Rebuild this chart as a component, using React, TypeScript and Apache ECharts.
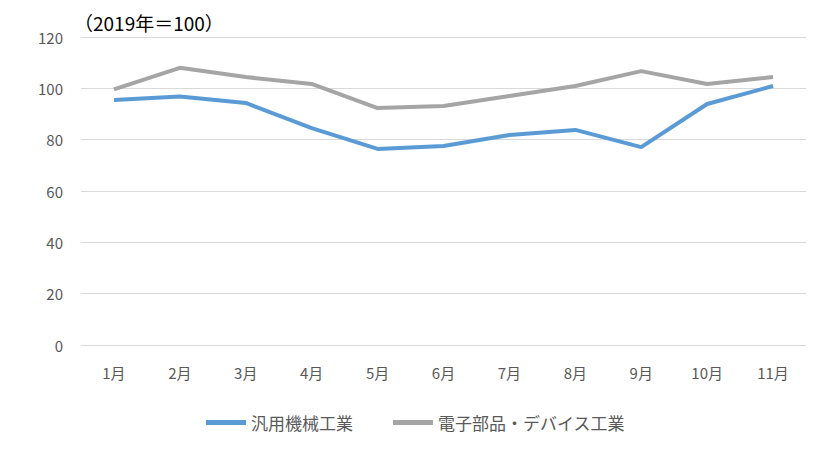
import React, { useEffect, useRef } from 'react';
import * as echarts from 'echarts';

const months = ['1月', '2月', '3月', '4月', '5月', '6月', '7月', '8月', '9月', '10月', '11月'];
const generalMachinery = [95.5, 96.8, 94.3, 84.5, 76.4, 77.5, 81.8, 83.8, 77.1, 93.9, 100.9];
const electronicParts = [99.6, 108, 104.4, 101.7, 92.3, 93.1, 97, 100.9, 106.7, 101.7, 104.4];
const unitLabel = '（2019年＝100）';

const FONT = '"Noto Sans CJK JP", "Noto Sans", sans-serif';

const App: React.FC = () => {
  const chartRef = useRef<HTMLDivElement>(null);

  useEffect(() => {
    const myChart = echarts.init(chartRef.current!, undefined, { renderer: 'svg' });

    const option = {
      animation: false,
      backgroundColor: '#fff',
      textStyle: { fontFamily: FONT },
      graphic: [
        {
          type: 'text',
          left: 74,
          top: 13,
          style: { text: unitLabel, fontSize: 19, fill: '#000', fontFamily: FONT },
        },
      ],
      legend: {
        bottom: 14,
        left: 'center',
        itemWidth: 40,
        itemHeight: 5,
        itemGap: 40,
        icon: 'rect',
        textStyle: { fontSize: 17, color: '#595959', fontFamily: FONT },
        data: ['汎用機械工業', '電子部品・デバイス工業'],
      },
      grid: {
        left: 81,
        right: 25,
        top: 37,
        bottom: 105,
      },
      xAxis: {
        type: 'category',
        boundaryGap: true,
        data: months,
        axisLine: { show: false },
        axisTick: { show: false },
        axisLabel: { color: '#595959', fontSize: 15, margin: 20, fontFamily: FONT },
      },
      yAxis: {
        type: 'value',
        min: 0,
        max: 120,
        interval: 20,
        axisLine: { show: false },
        axisTick: { show: false },
        axisLabel: { color: '#595959', fontSize: 15, margin: 18, fontFamily: FONT },
        splitLine: { lineStyle: { color: '#D9D9D9', width: 1 } },
      },
      series: [
        {
          name: '汎用機械工業',
          type: 'line',
          data: generalMachinery,
          symbol: 'none',
          itemStyle: { color: '#5B9BD5' },
          lineStyle: { color: '#5B9BD5', width: 4 },
        },
        {
          name: '電子部品・デバイス工業',
          type: 'line',
          data: electronicParts,
          symbol: 'none',
          itemStyle: { color: '#A5A5A5' },
          lineStyle: { color: '#A5A5A5', width: 4 },
        },
      ],
    };

    myChart.setOption(option);

    return () => {
      myChart.dispose();
    };
  }, []);

  return (
    <div
      ref={chartRef}
      style={{ position: 'fixed', left: 0, top: 0, width: '831px', height: '450px' }}
    />
  );
};

export default App;
